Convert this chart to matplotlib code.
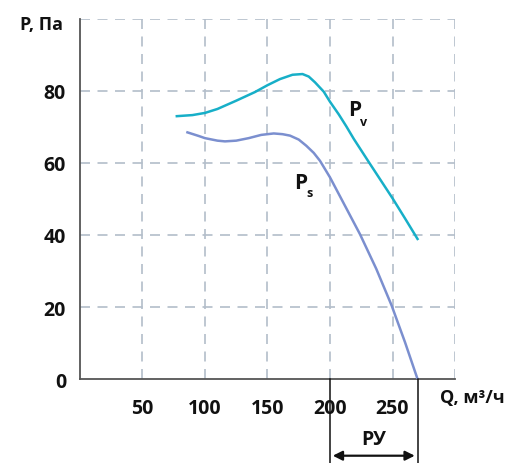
import matplotlib
matplotlib.use("Agg")
from matplotlib import pyplot as plt

pv_q = [77.5, 90, 100, 110, 125, 140, 150, 160, 170, 178, 183, 188, 195, 200, 207, 213, 219, 231.5, 250, 260, 270]
pv_p = [73.0, 73.3, 73.9, 75.0, 77.3, 79.7, 81.6, 83.3, 84.5, 84.7, 84.0, 82.4, 79.8, 77.0, 73.5, 70.2, 66.7, 60.0, 50.2, 44.6, 38.9]

ps_q = [86, 95, 100, 110, 116, 125, 135, 145, 155, 162, 168, 175, 181, 187, 192, 200, 212, 224, 237, 249.3, 260, 270]
ps_p = [68.5, 67.5, 66.9, 66.2, 66.0, 66.2, 66.9, 67.8, 68.2, 68.0, 67.6, 66.5, 64.8, 62.8, 60.6, 56.0, 48.1, 40.2, 30.6, 20.4, 10.2, 0.0]

x_ticks = [50, 100, 150, 200, 250]
y_ticks = [0, 20, 40, 60, 80]
grid_x = [50, 100, 150, 200, 250, 300]
grid_y = [20, 40, 60, 80, 100]
ry_range = [200, 270]

plt.rcParams['font.family'] = ['Open Sans', 'DejaVu Sans']
txt = '#111111'

fig = plt.figure(figsize=(5.09, 4.64), dpi=100)
ax = fig.add_axes([0.157, 0.181, 0.737, 0.776])
ax.set_xlim(0, 300)
ax.set_ylim(0, 100)

#dashed grid
for gx in grid_x:
    ax.axvline(gx, color='#B3BECA', lw=1.2, ls=(0, (6, 4.5)), zorder=1)
for gy in grid_y:
    ax.axhline(gy, color='#B3BECA', lw=1.2, ls=(0, (6, 4.5)), zorder=1)

ax.plot(pv_q, pv_p, color='#17AFC8', lw=1.8, zorder=3)
ax.plot(ps_q, ps_p, color='#7B8FCF', lw=1.8, zorder=3)

for s in ['top', 'right']:
    ax.spines[s].set_visible(False)
for s in ['left', 'bottom']:
    ax.spines[s].set_color('#555555')
    ax.spines[s].set_linewidth(1.3)

ax.set_xticks(x_ticks)
ax.set_yticks(y_ticks)
ax.tick_params(axis='x', length=0, pad=14, labelsize=14, labelcolor=txt)
ax.tick_params(axis='y', length=0, pad=10, labelsize=14, labelcolor=txt)
for lab in ax.get_xticklabels() + ax.get_yticklabels():
    lab.set_fontweight('bold')

ax.text(-13.6, 98.6, 'P, Па', ha='right', va='center', fontsize=13, fontweight='bold', color=txt, clip_on=False)
ax.text(288, -4.9, 'Q, м³/ч', ha='left', va='center', fontsize=13, fontweight='bold', color=txt, clip_on=False)

# curve labels
ax.text(220, 74.9, 'P', ha='center', va='center', fontsize=15, fontweight='bold', color=txt)
ax.text(227, 71.5, 'v', ha='center', va='center', fontsize=9, fontweight='bold', color=txt)
ax.text(176.4, 54.6, 'P', ha='center', va='center', fontsize=15, fontweight='bold', color=txt)
ax.text(183.6, 51.7, 's', ha='center', va='center', fontsize=9, fontweight='bold', color=txt)

# working range
for q in ry_range:
    ax.plot([q, q], [0, -23.5], color='#111111', lw=1.1, clip_on=False, zorder=4)
ax.annotate('', xy=(ry_range[0], -21.3), xytext=(ry_range[1], -21.3),
            arrowprops=dict(arrowstyle='<|-|>', color='#111111', lw=1.6, mutation_scale=14),
            annotation_clip=False)
ax.text(sum(ry_range) / 2, -16.7, 'РУ', ha='center', va='center', fontsize=14, fontweight='bold', color=txt, clip_on=False)

plt.savefig('out.png', dpi=100)
